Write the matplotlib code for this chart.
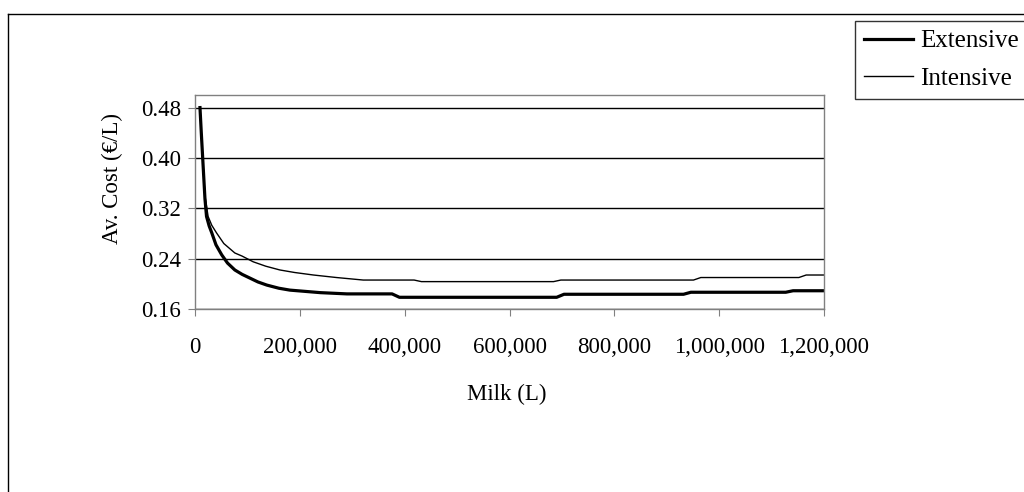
import matplotlib
matplotlib.use("Agg")
import matplotlib.pyplot as plt
from matplotlib.lines import Line2D
from matplotlib.ticker import FuncFormatter

# Average cost curves
milk_ext = [9500, 12000, 16000, 19000, 22000, 27000, 32000, 40000, 51000, 62000,
            76000, 90000, 105000, 120000, 137000, 160000, 181000, 210000, 239000,
            290000, 376000, 390000, 690000, 704000, 932000, 946000, 1127000,
            1141000, 1200000]
cost_ext = [0.48, 0.44, 0.38, 0.335, 0.307, 0.292, 0.281, 0.262, 0.246, 0.233,
            0.222, 0.215, 0.209, 0.203, 0.198, 0.193, 0.190, 0.188, 0.186,
            0.184, 0.184, 0.1786, 0.1786, 0.1834, 0.1834, 0.1866, 0.1866,
            0.189, 0.189]

milk_int = [9500, 12000, 16000, 19000, 25000, 32000, 41000, 55000, 76000, 90000,
            111000, 135000, 162000, 190000, 226000, 270000, 321000, 418000,
            432000, 684000, 698000, 951000, 965000, 1152000, 1166000, 1200000]
cost_int = [0.48, 0.44, 0.38, 0.34, 0.307, 0.293, 0.281, 0.264, 0.249, 0.244,
            0.235, 0.228, 0.222, 0.218, 0.214, 0.210, 0.206, 0.206, 0.2035,
            0.2035, 0.206, 0.206, 0.210, 0.210, 0.214, 0.214]

y_ticks = [0.16, 0.24, 0.32, 0.40, 0.48]
x_ticks = [0, 200000, 400000, 600000, 800000, 1000000, 1200000]

plt.rcParams["font.family"] = ["Liberation Serif", "DejaVu Serif"]
plt.rcParams["font.size"] = 16.5

fig = plt.figure(figsize=(10.24, 4.92), dpi=100)
ax = fig.add_axes([195 / 1024, 1 - 309 / 492, 629 / 1024, 214 / 492])

ax.plot(milk_ext, cost_ext, color="black", linewidth=2.3, label="Extensive",
        solid_joinstyle="round")
ax.plot(milk_int, cost_int, color="black", linewidth=1.0, label="Intensive")

ax.set_xlim(0, 1200000)
ax.set_ylim(0.16, 0.50)
ax.set_yticks(y_ticks)
ax.set_xticks(x_ticks)
ax.yaxis.set_major_formatter(FuncFormatter(lambda v, p: f"{v:.2f}"))
ax.xaxis.set_major_formatter(FuncFormatter(lambda v, p: f"{int(v):,}"))
ax.grid(True, axis="y", color="black", linewidth=1.0)
ax.set_axisbelow(True)
for side in ax.spines.values():
    side.set_color("#808080")
    side.set_linewidth(1.0)
ax.tick_params(direction="out", length=5, color="#808080")
ax.tick_params(axis="x", pad=15.5)
ax.tick_params(axis="y", pad=5)

ax.set_xlabel("Milk (L)")
ax.set_ylabel("Av. Cost (€/L)")
ax.xaxis.set_label_coords(0.495, -0.35)
ax.yaxis.set_label_coords(-0.114, 0.61)

# outer chart frame (cut off at right and bottom)
fig.add_artist(Line2D([8 / 1024, 1.0], [1 - 14 / 492, 1 - 14 / 492],
                      transform=fig.transFigure, color="black", linewidth=1.0))
fig.add_artist(Line2D([8 / 1024, 8 / 1024], [0.0, 1 - 14 / 492],
                      transform=fig.transFigure, color="black", linewidth=1.0))

leg = fig.legend(loc="upper left", bbox_to_anchor=(855 / 1024, 1 - 21 / 492),
                 frameon=True, fancybox=False, edgecolor="black", fontsize=18,
                 handlelength=1.95, handletextpad=0.3, borderpad=0.35,
                 labelspacing=0.6, borderaxespad=0)
leg.get_frame().set_linewidth(1.0)

fig.savefig("out.png", dpi=100)
